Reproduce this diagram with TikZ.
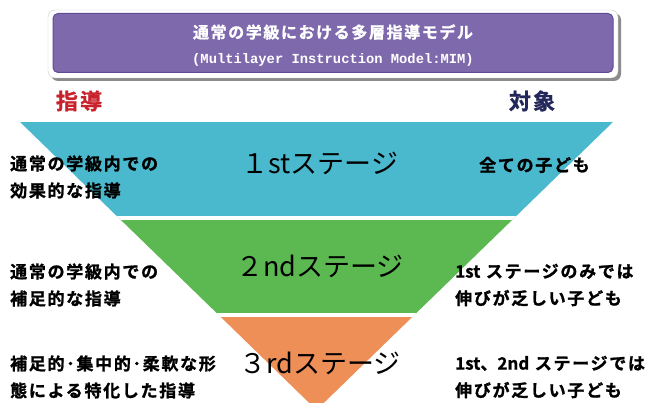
\documentclass[tikz,border=0pt]{standalone}
\usepackage{fontspec}
\newfontfamily\jpb{Noto Sans CJK JP Bold}[LetterSpace=10,FakeBold=1.2]
\newfontfamily\jpr{Noto Sans CJK JP}
\newfontfamily\monob{Liberation Mono Bold}
\definecolor{titlepurple}{RGB}{126,105,172}
\definecolor{titleedge}{RGB}{95,75,150}
\definecolor{stblue}{RGB}{75,185,205}
\definecolor{stgreen}{RGB}{92,185,82}
\definecolor{storange}{RGB}{238,143,88}
\definecolor{shidored}{RGB}{200,35,45}
\definecolor{taishonavy}{RGB}{35,40,90}
\newcommand{\tightlat}[1]{{\addfontfeature{LetterSpace=0}#1}}
\tikzset{
  desc/.style={anchor=west, align=left, inner sep=0pt, text=black,
    font=\jpb\fontsize{17}{27}\selectfont},
  stagelbl/.style={inner sep=0pt, text=black, font=\jpr\fontsize{27}{30}\selectfont},
  headlbl/.style={inner sep=0pt, font=\jpb\fontsize{22}{24}\selectfont}
}
\begin{document}
\begin{tikzpicture}[x=1pt,y=-1pt]
\useasboundingbox (0,0) rectangle (645,403);
\fill[white] (0,0) rectangle (645,403);
% title box
\fill[black!45, rounded corners=7pt] (51,13) rectangle (621,81);
\filldraw[fill=white, draw=black!20, rounded corners=7pt] (48,10) rectangle (618,78);
\filldraw[fill=titlepurple, draw=titleedge, line width=1pt, rounded corners=5pt] (53,13.5) rectangle (613,72.5);
\node[inner sep=0pt, text=white, font=\jpb\fontsize{16}{18}\selectfont] (t1) at (333,32) {通常の学級における多層指導モデル};
\node[inner sep=0pt, text=white, font=\monob\fontsize{13.8}{16}\selectfont] (t2) at (333,60) {(Multilayer Instruction Model:MIM)};
% headers
\node[headlbl, text=shidored] (shido) at (79,101) {指導};
\node[headlbl, text=taishonavy] (taisho) at (532,101) {対象};
% inverted triangle
\begin{scope}
\clip (20,122) -- (613,122) -- (316.5,410) -- cycle;
\fill[stblue] (0,122) rectangle (645,218);
\fill[stgreen] (0,218) rectangle (645,315);
\fill[storange] (0,315) rectangle (645,410);
\draw[white, line width=4pt] (0,218) -- (645,218);
\draw[white, line width=4pt] (0,315) -- (645,315);
\end{scope}
% stage labels
\node[stagelbl] (s1) at (320,163) {１stステージ};
\node[stagelbl] (s2) at (320,266) {２ndステージ};
\node[stagelbl] (s3) at (320,363) {３rdステージ};
% left descriptions
\node[desc] (l1) at (10,177) {通常の学級内での\\効果的な指導};
\node[desc] (l2) at (10,285) {通常の学級内での\\補足的な指導};
\node[desc] (l3) at (10,377) {補足的･集中的･柔軟な形\\態による特化した指導};
% right descriptions
\node[desc] (r1) at (479,165) {全ての子ども};
\node[desc] (r2) at (455,285) {\tightlat{1st} ステージのみでは\\伸びが乏しい子ども};
\node[desc] (r3) at (455,377) {\tightlat{1st}、\tightlat{2nd} ステージでは\\伸びが乏しい子ども};
\end{tikzpicture}
\end{document}
